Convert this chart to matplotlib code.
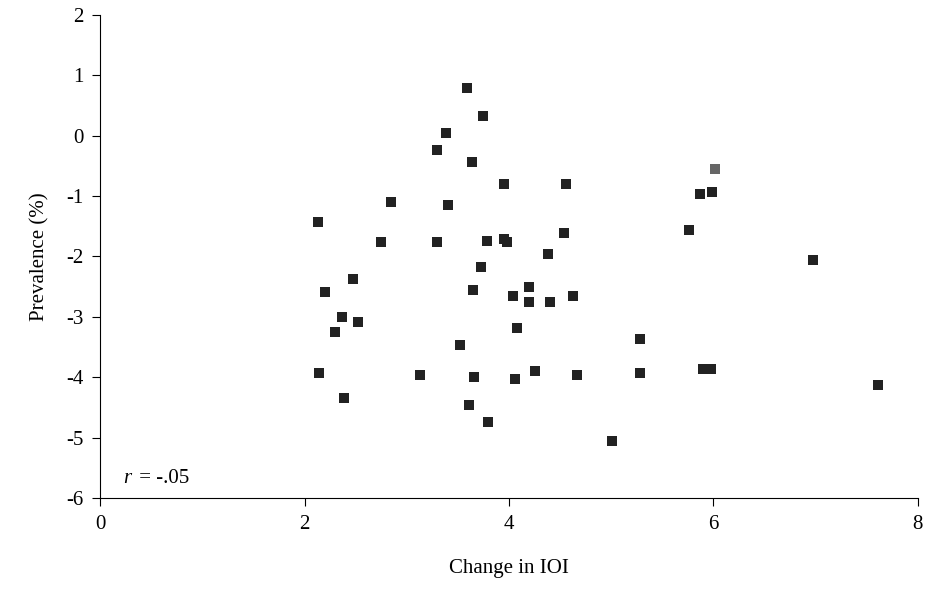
import matplotlib
matplotlib.use("Agg")
import matplotlib.pyplot as plt

x = [2.13,2.20,2.47,2.30,2.37,2.52,2.14,2.39,2.85,2.75,3.13,3.30,3.38,3.40,3.30,3.59,3.75,3.64,3.73,3.65,3.52,3.66,3.61,3.80,3.79,3.95,3.95,3.98,4.04,4.08,4.06,4.20,4.20,4.38,4.40,4.26,4.56,4.54,4.63,4.67,5.01,5.28,5.28,5.76,5.87,5.99,5.90,5.98,6.98,7.61]
y = [-1.43,-2.59,-2.37,-3.25,-3.0,-3.08,-3.93,-4.34,-1.10,-1.77,-3.96,-0.24,0.05,-1.15,-1.77,0.79,0.33,-0.43,-2.17,-2.55,-3.46,-3.99,-4.46,-4.74,-1.74,-0.80,-1.71,-1.77,-2.65,-3.18,-4.03,-2.50,-2.75,-1.96,-2.75,-3.89,-0.80,-1.61,-2.65,-3.96,-5.05,-3.36,-3.93,-1.56,-0.96,-0.93,-3.86,-3.86,-2.06,-4.13]
grey_x = [6.02]
grey_y = [-0.55]
xticks = [0, 2, 4, 6, 8]
yticks = [2, 1, 0, -1, -2, -3, -4, -5, -6]

plt.rcParams['font.family'] = ['Liberation Serif', 'DejaVu Serif']
fig = plt.figure(figsize=(9.27, 5.90), dpi=100)
ax = fig.add_axes([0.108, 0.156, 0.882, 0.819])
ax.scatter(x, y, marker='s', s=42, color='#222222', linewidths=0)
ax.scatter(grey_x, grey_y, marker='s', s=42, color='#666666', linewidths=0)
ax.set_xlim(0, 8)
ax.set_ylim(-6, 2)
ax.set_xticks(xticks)
ax.set_yticks(yticks)
ax.set_yticklabels([str(t) for t in yticks])
ax.spines['top'].set_visible(False)
ax.spines['right'].set_visible(False)
ax.tick_params(direction='out', length=6, labelsize=15, pad=6)
ax.set_xlabel('Change in IOI', fontsize=15, labelpad=18)
ax.set_ylabel('Prevalence (%)', fontsize=15, labelpad=12)
ax.text(0.23, -5.75, 'r', fontsize=15, fontstyle='italic')
ax.text(0.33, -5.75, ' = -.05', fontsize=15)
fig.savefig('out.png')
